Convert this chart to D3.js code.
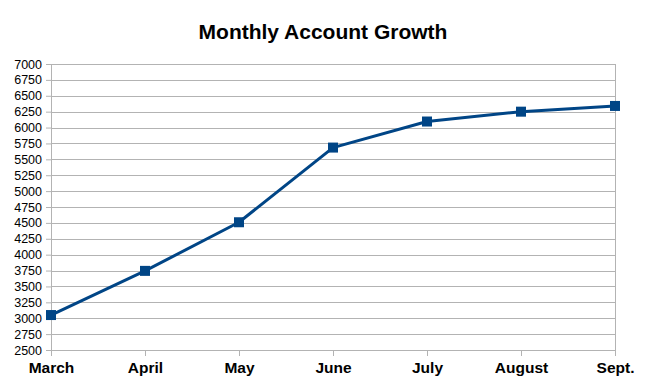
<!DOCTYPE html>
<html>
<head>
<meta charset="utf-8">
<script src="https://cdn.jsdelivr.net/npm/d3@7"></script>
<style>
  body { margin: 0; background: #fff; }
  svg { display: block; font-family: "Liberation Sans", Arial, sans-serif; }
</style>
</head>
<body>
<div id="chart"></div>
<script>
var months = ["March", "April", "May", "June", "July", "August", "Sept."];
var accounts = [3050, 3745, 4510, 5685, 6095, 6250, 6340];
var yTicks = d3.range(2500, 7001, 250);

var svgWidth = 647;
var svgHeight = 384;

var margin = { top: 64, right: 32, bottom: 34, left: 51 };
var chartWidth = svgWidth - margin.left - margin.right;
var chartHeight = svgHeight - margin.top - margin.bottom;

var svg = d3.select("#chart")
  .append("svg")
  .attr("width", svgWidth)
  .attr("height", svgHeight);

svg.append("text")
  .attr("x", 323)
  .attr("y", 39)
  .attr("text-anchor", "middle")
  .attr("font-size", "21px")
  .attr("font-weight", "bold")
  .text("Monthly Account Growth");

var chartGroup = svg.append("g")
  .attr("transform", `translate(${margin.left},${margin.top})`);

var xScale = d3.scalePoint()
  .domain(months)
  .range([0, chartWidth]);

var yScale = d3.scaleLinear()
  .domain([2500, 7000])
  .range([chartHeight, 0]);

// grid lines
chartGroup.append("g")
  .selectAll("line")
  .data(yTicks)
  .enter()
  .append("line")
  .attr("x1", 0)
  .attr("x2", chartWidth)
  .attr("y1", d => Math.round(yScale(d)) + 0.5)
  .attr("y2", d => Math.round(yScale(d)) + 0.5)
  .attr("stroke", "#b3b3b3")
  .attr("stroke-width", 1);

// right border
chartGroup.append("line")
  .attr("x1", chartWidth + 0.5)
  .attr("x2", chartWidth + 0.5)
  .attr("y1", 0)
  .attr("y2", chartHeight + 6)
  .attr("stroke", "#b3b3b3");

var leftAxis = d3.axisLeft(yScale)
  .tickValues(yTicks)
  .tickFormat(d3.format("d"))
  .tickSize(5)
  .tickPadding(4);

var yAxis = chartGroup.append("g")
  .call(leftAxis);
yAxis.selectAll("line, path").attr("stroke", "#b3b3b3");
yAxis.select(".domain").attr("d", `M0.5,0V${chartHeight}`);
yAxis.selectAll("text")
  .attr("font-size", "12.5px")
  .attr("font-family", "Liberation Sans, Arial, sans-serif")
  .attr("fill", "#000");

var bottomAxis = d3.axisBottom(xScale)
  .tickSize(6)
  .tickPadding(6);

var xAxis = chartGroup.append("g")
  .attr("transform", `translate(0,${chartHeight})`)
  .call(bottomAxis);
xAxis.selectAll("line, path").attr("stroke", "#b3b3b3");
xAxis.select(".domain").attr("d", `M0,0.5H${chartWidth}`);
xAxis.selectAll("text")
  .attr("font-size", "15.5px")
  .attr("font-weight", "bold")
  .attr("font-family", "Liberation Sans, Arial, sans-serif")
  .attr("fill", "#000");

var line = d3.line()
  .x((d, i) => xScale(months[i]))
  .y(d => yScale(d));

chartGroup.append("path")
  .datum(accounts)
  .attr("d", line)
  .attr("fill", "none")
  .attr("stroke", "#004586")
  .attr("stroke-width", 3)
  .attr("stroke-linejoin", "round");

chartGroup.selectAll("rect.marker")
  .data(accounts)
  .enter()
  .append("rect")
  .attr("class", "marker")
  .attr("x", (d, i) => xScale(months[i]) - 5)
  .attr("y", d => yScale(d) - 5)
  .attr("width", 10)
  .attr("height", 10)
  .attr("fill", "#004586");
</script>
</body>
</html>
